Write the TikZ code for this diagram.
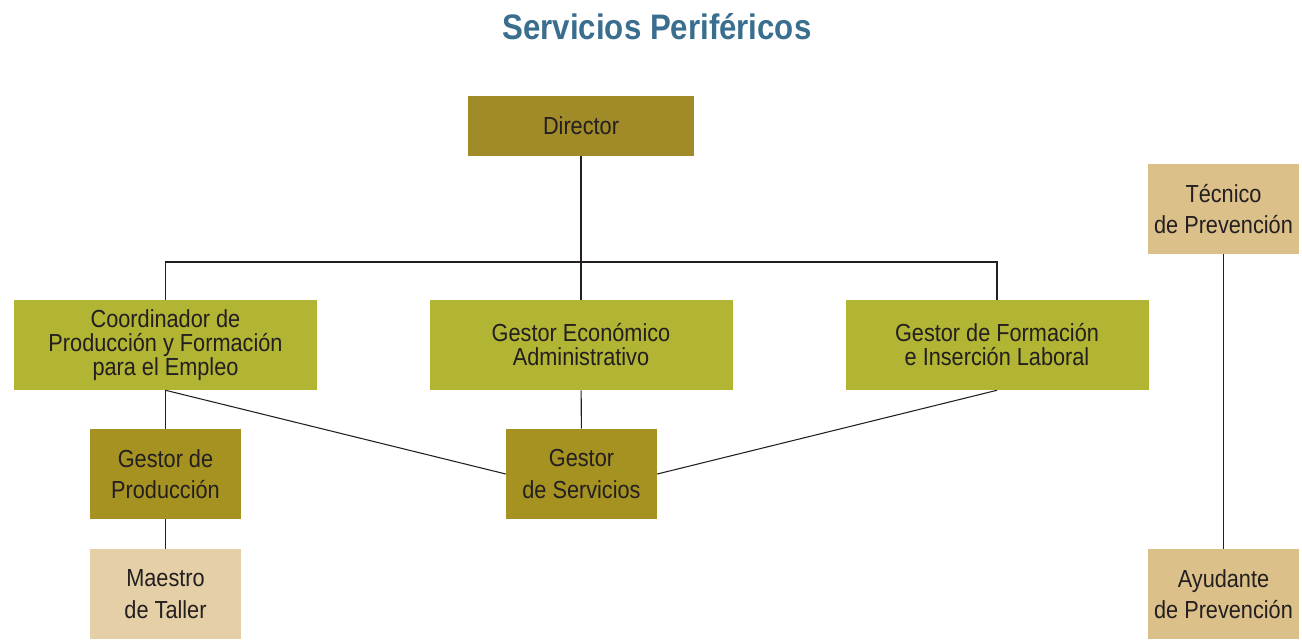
\documentclass[tikz,border=0pt]{standalone}
\usepackage{fontspec}
\setmainfont{Liberation Sans}[FakeStretch=0.88]
\usepackage{tikz}
\usetikzlibrary{positioning,calc}
\definecolor{darkolive}{RGB}{160,139,40}
\definecolor{prodolive}{RGB}{166,146,32}
\definecolor{limeolive}{RGB}{178,180,52}
\definecolor{sandbeige}{RGB}{228,207,166}
\definecolor{tanbox}{RGB}{220,192,138}
\definecolor{titleblue}{RGB}{58,110,143}
\definecolor{inkgray}{RGB}{35,31,32}

\begin{document}
\begin{tikzpicture}[x=0.75pt, y=-0.75pt,
    box/.style={rectangle, inner sep=0pt, align=center, text=inkgray,
      font=\fontsize{18.5}{18}\selectfont},
    bigbox/.style={box, minimum width=227.25pt, minimum height=67.5pt, fill=limeolive},
    smallbox/.style={box, minimum width=113.25pt, minimum height=67.5pt,
      font=\fontsize{18.5}{23.5}\selectfont},
    link/.style={draw=inkgray, line width=0.8pt}]
    \useasboundingbox (0,0) rectangle (1302,639);
    % Title
    \node[text=titleblue, font=\fontsize{26.6}{30}\selectfont\bfseries] (title) at (657,27)
      {Servicios Periféricos};
    % Top level
    \node[box, minimum width=169.5pt, minimum height=45pt, fill=darkolive] (director) at (581,126)
      {Director};
    % Second level
    \node[bigbox] (coord) at (165.5,345) {Coordinador de\\Producción y Formación\\para el Empleo};
    \node[bigbox] (gecon) at (581,345) {Gestor Económico\\Administrativo};
    \node[bigbox] (gform) at (997,345) {Gestor de Formación\\e Inserción Laboral};
    % Third level
    \node[smallbox, fill=prodolive] (gprod) at (165.5,474) {Gestor de\\Producción};
    \node[smallbox, fill=prodolive] (gserv) at (581.5,474) {Gestor\\de Servicios};
    \node[smallbox, fill=sandbeige] (maestro) at (165.5,594) {Maestro\\de Taller};
    % Prevention column
    \node[smallbox, fill=tanbox] (tecnico) at (1223.5,209) {Técnico\\de Prevención};
    \node[smallbox, fill=tanbox] (ayudante) at (1223.5,594) {Ayudante\\de Prevención};
    % Connectors
    \coordinate (bus) at (581,262);
    \draw[link] (director) -- (bus);
    \draw[link] (coord.north) |- (bus) -| (gform.north);
    \draw[link] (bus) -- (gecon);
    \draw[link] (coord) -- (gprod);
    \draw[link] (gprod) -- (maestro);
    \draw[link] (gecon) -- (gserv);
    \draw[link] (coord.south) -- (gserv.west);
    \draw[link] (gform.south) -- (gserv.east);
    \draw[link] (tecnico) -- (ayudante);
  \end{tikzpicture}
\end{document}
